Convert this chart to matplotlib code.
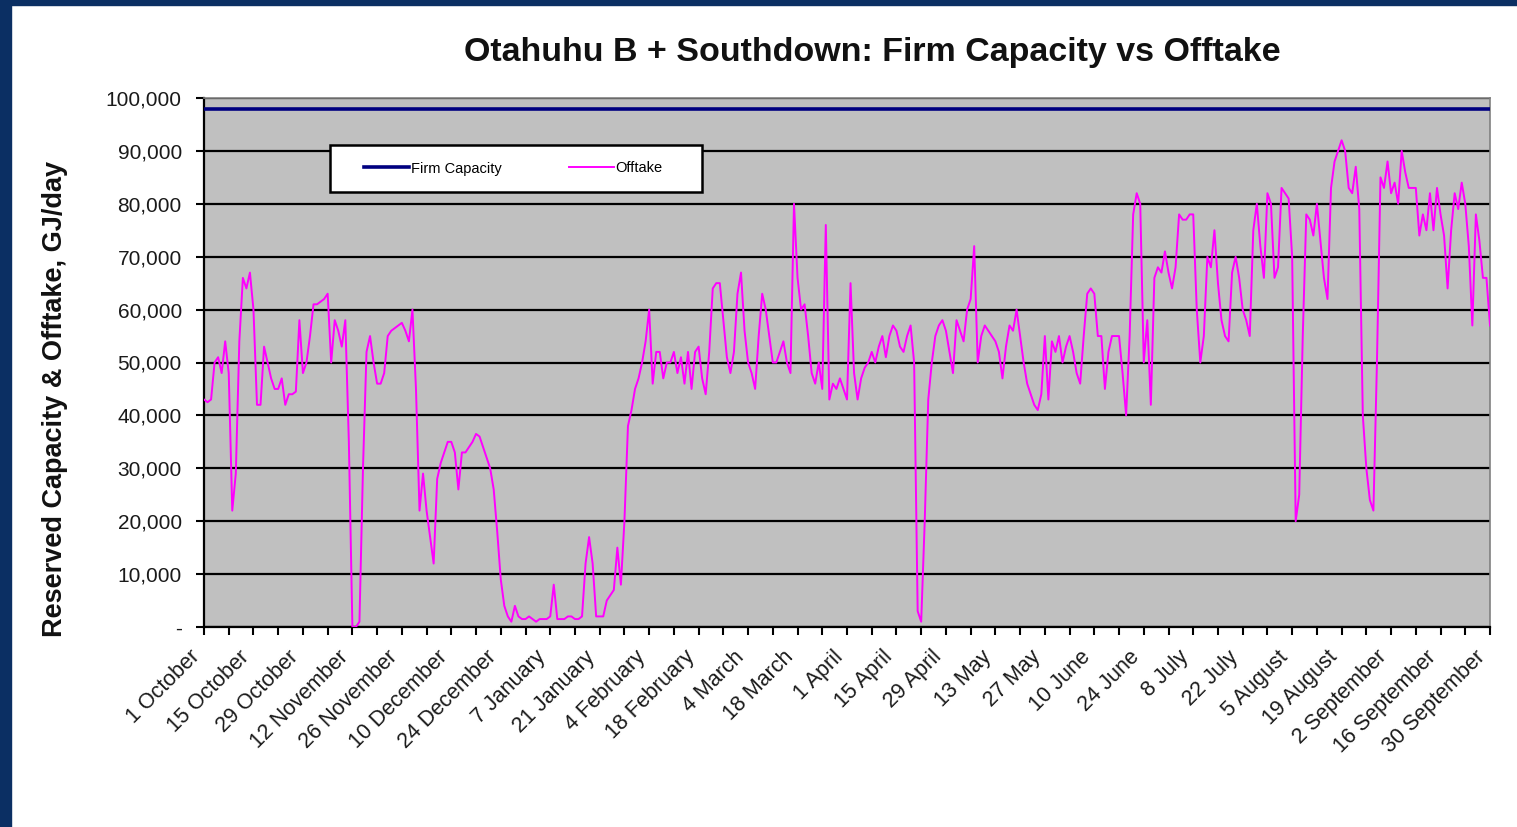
import numpy as np
import matplotlib.pyplot as plt
from matplotlib.patches import Rectangle
from matplotlib.ticker import FuncFormatter, MultipleLocator

plt.rcParams['font.family'] = ['Liberation Sans', 'DejaVu Sans']

# daily offtake, GJ/day, from 1 October (two weeks per row)
offtake = [
    43000, 42500, 43000, 50000, 51000, 48000, 54000, 48000, 22000, 29000, 54000, 66000, 64000, 67000,
    60000, 42000, 42000, 53000, 50000, 47000, 45000, 45000, 47000, 42000, 44000, 44000, 44500, 58000,
    48000, 50000, 55000, 61000, 61000, 61500, 62000, 63000, 50000, 58000, 56000, 53000, 58000, 35000,
    0, 0, 1000, 30000, 52000, 55000, 50000, 46000, 46000, 48000, 55000, 56000, 56500, 57000,
    57500, 56000, 54000, 60000, 45000, 22000, 29000, 22000, 17000, 12000, 28000, 31000, 33000, 35000,
    35000, 33000, 26000, 33000, 33000, 34000, 35000, 36500, 36000, 34000, 32000, 30000, 26000, 18000,
    9000, 4000, 2000, 1000, 4000, 2000, 1500, 1500, 2000, 1500, 1000, 1500, 1500, 1500,
    2000, 8000, 1500, 1500, 1500, 2000, 2000, 1500, 1500, 2000, 12000, 17000, 12000, 2000,
    2000, 2000, 5000, 6000, 7000, 15000, 8000, 20000, 38000, 41000, 45000, 47000, 50000, 54000,
    60000, 46000, 52000, 52000, 47000, 50000, 50000, 52000, 48000, 51000, 46000, 52000, 45000, 52000,
    53000, 47000, 44000, 52000, 64000, 65000, 65000, 58000, 51000, 48000, 52000, 63000, 67000, 56000,
    50000, 48000, 45000, 55000, 63000, 60000, 55000, 50000, 50000, 52000, 54000, 50000, 48000, 80000,
    66000, 60000, 61000, 55000, 48000, 46000, 50000, 45000, 76000, 43000, 46000, 45000, 47000, 45000,
    43000, 65000, 48000, 43000, 47000, 49000, 50000, 52000, 50000, 53000, 55000, 51000, 55000, 57000,
    56000, 53000, 52000, 55000, 57000, 50000, 3000, 1000, 20000, 43000, 50000, 55000, 57000, 58000,
    56000, 52000, 48000, 58000, 56000, 54000, 60000, 62000, 72000, 50000, 55000, 57000, 56000, 55000,
    54000, 52000, 47000, 53000, 57000, 56000, 60000, 55000, 50000, 46000, 44000, 42000, 41000, 44000,
    55000, 43000, 54000, 52000, 55000, 50000, 53000, 55000, 52000, 48000, 46000, 55000, 63000, 64000,
    63000, 55000, 55000, 45000, 52000, 55000, 55000, 55000, 48000, 40000, 55000, 78000, 82000, 80000,
    50000, 58000, 42000, 66000, 68000, 67000, 71000, 67000, 64000, 68000, 78000, 77000, 77000, 78000,
    78000, 60000, 50000, 55000, 70000, 68000, 75000, 65000, 58000, 55000, 54000, 67000, 70000, 66000,
    60000, 58000, 55000, 75000, 80000, 72000, 66000, 82000, 80000, 66000, 68000, 83000, 82000, 81000,
    70000, 20000, 25000, 55000, 78000, 77000, 74000, 80000, 73000, 66000, 62000, 83000, 88000, 90000,
    92000, 90000, 83000, 82000, 87000, 79000, 40000, 30000, 24000, 22000, 50000, 85000, 83000, 88000,
    82000, 84000, 80000, 90000, 86000, 83000, 83000, 83000, 74000, 78000, 75000, 82000, 75000, 83000,
    78000, 74000, 64000, 75000, 82000, 79000, 84000, 80000, 72000, 57000, 78000, 73000, 66000, 66000,
    57000,
]
firm_capacity = 98000

tick_labels = ["1 October", "15 October", "29 October", "12 November", "26 November",
               "10 December", "24 December", "7 January", "21 January", "4 February",
               "18 February", "4 March", "18 March", "1 April", "15 April", "29 April",
               "13 May", "27 May", "10 June", "24 June", "8 July", "22 July", "5 August",
               "19 August", "2 September", "16 September", "30 September"]

days = np.arange(len(offtake))
W, H = 1517, 827

fig = plt.figure(figsize=(W / 100, H / 100), dpi=100)
fig.patch.set_facecolor('white')
navy = '#0b2f63'
fig.add_artist(Rectangle((0, 0), 11 / W, 1, transform=fig.transFigure, color=navy, zorder=0))
fig.add_artist(Rectangle((0, 1 - 5 / H), 1, 5 / H, transform=fig.transFigure, color=navy, zorder=0))

ax = fig.add_axes([204 / W, 1 - 627 / H, 1286 / W, 529 / H])
ax.set_facecolor('#c0c0c0')

ax.axhline(firm_capacity, color='#000080', lw=2.6, label='Firm Capacity', zorder=3)
ax.plot(days, offtake, color='#ff00ff', lw=1.4, label='Offtake', zorder=4)

ax.set_xlim(0, 364)
ax.set_ylim(0, 100000)
ax.set_yticks(range(0, 100001, 10000))
ax.yaxis.set_major_formatter(FuncFormatter(lambda v, p: '-' if v == 0 else f'{int(v):,}'))
ax.grid(axis='y', color='black', lw=1.6)
ax.set_axisbelow(True)

ax.set_xticks(range(0, 365, 14))
ax.set_xticklabels(tick_labels, rotation=45, ha='right', va='top', fontsize=15.5, color='#1a1a1a')
ax.xaxis.set_minor_locator(MultipleLocator(7))
ax.tick_params(axis='x', which='both', direction='out', length=6, width=1.5, color='black', pad=8)
ax.tick_params(axis='y', direction='out', length=6, width=1.5, color='black', pad=10,
               labelsize=15, labelcolor='#1a1a1a')

for side in ['top', 'right']:
    ax.spines[side].set_color('#808080')
    ax.spines[side].set_linewidth(1.2)
for side in ['left', 'bottom']:
    ax.spines[side].set_color('black')
    ax.spines[side].set_linewidth(1.6)

# legend box drawn separately so it can be wider than its entries
box_x0, box_x1 = (330 - 204) / 1286, (702 - 204) / 1286
box_y0, box_y1 = (627 - 192) / 529, (627 - 145) / 529
ax.add_patch(Rectangle((box_x0, box_y0), box_x1 - box_x0, box_y1 - box_y0,
                       transform=ax.transAxes, facecolor='white', edgecolor='black',
                       lw=1.8, zorder=5))
leg = ax.legend(loc='center left', bbox_to_anchor=((365 - 204) / 1286 - 0.001, (box_y0 + box_y1) / 2),
                borderaxespad=0, borderpad=0, ncol=2, fontsize=10.5, handlelength=3.1,
                handletextpad=0.12, columnspacing=4.6, frameon=False)
leg.set_zorder(6)

fig.text(872 / W, 1 - 52 / H, 'Otahuhu B + Southdown: Firm Capacity vs Offtake',
         ha='center', va='center', fontsize=24.5, fontweight='bold', color='#111111')
fig.text(55 / W, 1 - 399 / H, 'Reserved Capacity & Offtake, GJ/day', rotation=90,
         ha='center', va='center', fontsize=19.5, fontweight='bold', color='#111111')

fig.savefig('out.png', dpi=100)
